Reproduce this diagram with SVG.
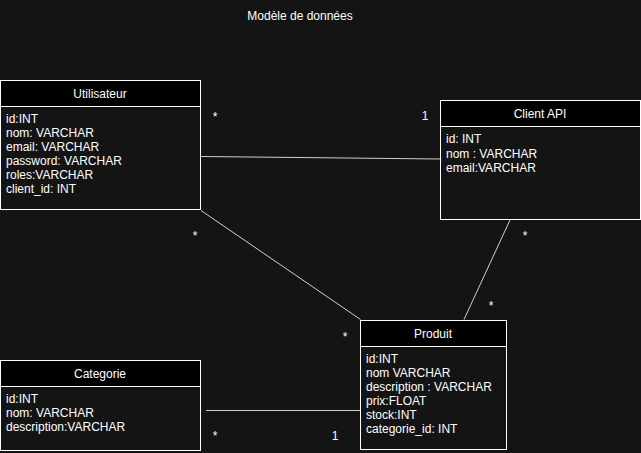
<svg xmlns="http://www.w3.org/2000/svg" width="641" height="453" viewBox="0 0 641 453">
<style>
text{font-family:"Liberation Sans",Arial,sans-serif;font-size:12px;fill:#ffffff}
.t{text-anchor:middle}
.body{fill:#141414;stroke:#ffffff;stroke-width:1}
.head{fill:#000000;stroke:#ffffff;stroke-width:1}
.edge{stroke:#d0d0d0;stroke-width:1;fill:none}
</style>
<rect width="641" height="453" fill="#141414"/>
<text class="t" x="300" y="20">Modèle de données</text>
<g id="utilisateur">
<rect class="body" x="0.5" y="80.5" width="200" height="129"/>
<rect class="head" x="0.5" y="80.5" width="200" height="26"/>
<text class="t" x="100" y="98">Utilisateur</text>
<text x="6" y="123">id:INT</text>
<text x="6" y="137">nom: VARCHAR</text>
<text x="6" y="151">email: VARCHAR</text>
<text x="6" y="165">password: VARCHAR</text>
<text x="6" y="179">roles:VARCHAR</text>
<text x="6" y="193">client_id: INT</text>
</g>
<g id="client-api">
<rect class="body" x="440.5" y="100.5" width="200" height="119"/>
<rect class="head" x="440.5" y="100.5" width="200" height="26"/>
<text class="t" x="540" y="118">Client API</text>
<text x="446" y="143">id: INT</text>
<text x="446" y="158">nom : VARCHAR</text>
<text x="446" y="172">email:VARCHAR</text>
</g>
<g id="produit">
<rect class="body" x="360.5" y="320.5" width="146" height="129"/>
<rect class="head" x="360.5" y="320.5" width="146" height="26"/>
<text class="t" x="433" y="338">Produit</text>
<text x="366" y="363">id:INT</text>
<text x="366" y="377">nom VARCHAR</text>
<text x="366" y="391">description : VARCHAR</text>
<text x="366" y="405">prix:FLOAT</text>
<text x="366" y="419">stock:INT</text>
<text x="366" y="433">categorie_id: INT</text>
</g>
<g id="categorie">
<rect class="body" x="0.5" y="360.5" width="200" height="90"/>
<rect class="head" x="0.5" y="360.5" width="200" height="26"/>
<text class="t" x="100" y="378">Categorie</text>
<text x="6" y="403">id:INT</text>
<text x="6" y="417">nom: VARCHAR</text>
<text x="6" y="431">description:VARCHAR</text>
</g>
<g id="connectors">
<line class="edge" x1="201" y1="156.5" x2="440" y2="159"/>
<line class="edge" x1="201" y1="210.5" x2="360.5" y2="319.5"/>
<line class="edge" x1="510" y1="220" x2="464" y2="319.5"/>
<line class="edge" x1="206" y1="410.5" x2="360" y2="410.5"/>
<text class="t" x="215" y="121">*</text>
<text class="t" x="425" y="120">1</text>
<text class="t" x="195" y="240">*</text>
<text class="t" x="345" y="341">*</text>
<text class="t" x="525" y="240">*</text>
<text class="t" x="491" y="310">*</text>
<text class="t" x="215" y="440">*</text>
<text class="t" x="335" y="440">1</text>
</g>
</svg>
